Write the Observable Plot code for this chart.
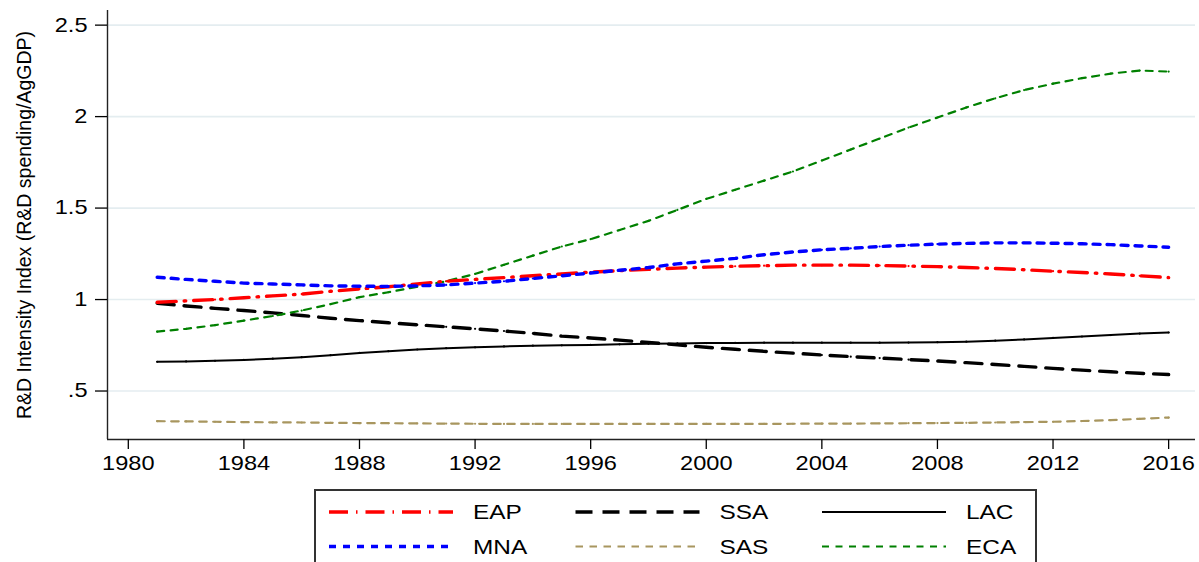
<!DOCTYPE html>
<html>
<head>
<meta charset="utf-8">
<script src="https://cdn.jsdelivr.net/npm/d3@7"></script>
<script src="https://cdn.jsdelivr.net/npm/@observablehq/plot@0.6"></script>
<style>
  body { margin: 0; background: #fff; font-family: "Liberation Sans", Arial, sans-serif; }
  #chart svg, #legend svg { display: block; }
</style>
</head>
<body>
<div id="chart"></div>
<div id="legend"></div>
<script>
// Agricultural R&D intensity by region, 1981-2016
const years = [1981, 1982, 1983, 1984, 1985, 1986, 1987, 1988, 1989, 1990, 1991, 1992,
               1993, 1994, 1995, 1996, 1997, 1998, 1999, 2000, 2001, 2002, 2003, 2004,
               2005, 2006, 2007, 2008, 2009, 2010, 2011, 2012, 2013, 2014, 2015, 2016];

const eap = [0.985, 0.993, 1.000, 1.010, 1.020, 1.030, 1.045, 1.058, 1.070, 1.085, 1.100, 1.110,
             1.120, 1.130, 1.140, 1.150, 1.158, 1.165, 1.172, 1.177, 1.182, 1.185, 1.188, 1.188,
             1.188, 1.186, 1.183, 1.180, 1.175, 1.170, 1.163, 1.155, 1.148, 1.140, 1.130, 1.120];

const ssa = [0.980, 0.965, 0.952, 0.940, 0.927, 0.913, 0.898, 0.885, 0.873, 0.862, 0.851, 0.840,
             0.828, 0.815, 0.800, 0.790, 0.778, 0.766, 0.752, 0.739, 0.728, 0.717, 0.707, 0.697,
             0.688, 0.680, 0.672, 0.664, 0.655, 0.645, 0.635, 0.624, 0.614, 0.605, 0.597, 0.590];

const lac = [0.660, 0.662, 0.665, 0.670, 0.677, 0.685, 0.696, 0.708, 0.718, 0.727, 0.734, 0.739,
             0.744, 0.748, 0.750, 0.752, 0.755, 0.758, 0.760, 0.762, 0.763, 0.764, 0.764, 0.764,
             0.764, 0.764, 0.765, 0.767, 0.770, 0.775, 0.782, 0.790, 0.798, 0.806, 0.814, 0.820];

const mna = [1.122, 1.110, 1.100, 1.090, 1.085, 1.080, 1.075, 1.073, 1.072, 1.075, 1.080, 1.090,
             1.100, 1.115, 1.130, 1.145, 1.160, 1.175, 1.195, 1.210, 1.225, 1.245, 1.260, 1.272,
             1.280, 1.290, 1.297, 1.303, 1.307, 1.310, 1.310, 1.308, 1.305, 1.300, 1.293, 1.286];

const sas = [0.335, 0.334, 0.332, 0.330, 0.329, 0.328, 0.326, 0.325, 0.324, 0.323, 0.322, 0.321,
             0.320, 0.320, 0.320, 0.320, 0.320, 0.320, 0.320, 0.320, 0.320, 0.320, 0.321, 0.322,
             0.322, 0.323, 0.324, 0.325, 0.326, 0.328, 0.330, 0.332, 0.336, 0.341, 0.348, 0.355];

const eca = [0.825, 0.840, 0.860, 0.885, 0.910, 0.940, 0.975, 1.013, 1.040, 1.070, 1.100, 1.140,
             1.190, 1.240, 1.290, 1.330, 1.380, 1.430, 1.490, 1.550, 1.600, 1.650, 1.700, 1.760,
             1.820, 1.880, 1.940, 1.995, 2.050, 2.100, 2.145, 2.180, 2.210, 2.235, 2.252, 2.246];

const regions = ["EAP", "SSA", "LAC", "MNA", "SAS", "ECA"];
const xTicks = [1980, 1984, 1988, 1992, 1996, 2000, 2004, 2008, 2012, 2016];
const yTicks = [0.5, 1, 1.5, 2, 2.5];
const yTickLabels = [".5", "1", "1.5", "2", "2.5"];
const yTitle = "R&D Intensity Index (R&D spending/AgGDP)";

// line styling per region
const styles = {
  EAP: {values: eap, stroke: "#ff0000", width: 3.4, dash: "19,8,1.5,8"},
  SSA: {values: ssa, stroke: "#000000", width: 3.4, dash: "17,10"},
  LAC: {values: lac, stroke: "#000000", width: 2,   dash: null},
  MNA: {values: mna, stroke: "#0000ff", width: 3.4, dash: "7,7"},
  SAS: {values: sas, stroke: "#a8965f", width: 2.2, dash: "7.5,6.5"},
  ECA: {values: eca, stroke: "#008000", width: 2.2, dash: "7,6.5"}
};

const rows = regions.map(r => years.map((y, i) => ({region: r, year: y, value: styles[r].values[i]})));

const xDomain = [1979.28, 2016.93];
const yDomain = [0.235, 2.58];

const drawOrder = ["SAS", "LAC", "SSA", "ECA", "EAP", "MNA"];
const lineMarks = drawOrder.flatMap(r => {
  const s = styles[r];
  const data = rows[regions.indexOf(r)];
  return [
    Plot.line(data, {x: "year", y: "value", stroke: s.stroke, strokeWidth: s.width,
                     strokeDasharray: s.dash ?? undefined, curve: "linear"}),
    Plot.dot(data, {x: "year", y: "value", r: 1.1, fill: s.stroke, stroke: "none"})
  ];
});

const chart = Plot.plot({
  width: 1199,
  height: 480,
  marginLeft: 107,
  marginRight: 4,
  marginTop: 10,
  marginBottom: 41,
  style: {fontFamily: "'Liberation Sans', Arial, sans-serif", fontSize: "20px", color: "#000", background: "#fff"},
  x: {domain: xDomain},
  y: {domain: yDomain},
  marks: [
    Plot.gridY(yTicks, {stroke: "#e4edf0", strokeOpacity: 1, strokeWidth: 1.6}),
    ...lineMarks,
    Plot.ruleX([xDomain[0]], {stroke: "#222", strokeWidth: 1.4}),
    Plot.ruleY([yDomain[0]], {stroke: "#222", strokeWidth: 1.4}),
    Plot.axisY(yTicks, {tickSize: 12, tickPadding: 8, strokeWidth: 1.3,
                        tickFormat: d => yTickLabels[yTicks.indexOf(d)], label: null}),
    Plot.axisX(xTicks, {tickSize: 10, tickPadding: 6, strokeWidth: 1.3,
                        tickFormat: d => String(d), label: null}),
    Plot.text([yTitle], {frameAnchor: "left", dx: -83, rotate: -90, fontSize: 19.5,
                         textAnchor: "middle", lineAnchor: "middle", fill: "#000"})
  ]
});
document.getElementById("chart").appendChild(chart);

// widen tick label glyphs horizontally, keeping each label's anchor in place
const widen = 1.18;
function widenLabels(selector, anchorOf) {
  chart.querySelectorAll(selector).forEach(text => {
    const parent = text.parentNode;
    const box = text.getBoundingClientRect();
    const pt = chart.createSVGPoint();
    [pt.x, pt.y] = anchorOf(box);
    const local = pt.matrixTransform(parent.getScreenCTM().inverse());
    const g = document.createElementNS("http://www.w3.org/2000/svg", "g");
    g.setAttribute("transform",
      `translate(${local.x},${local.y}) scale(${widen},1) translate(${-local.x},${-local.y})`);
    parent.insertBefore(g, text);
    g.appendChild(text);
  });
}
widenLabels('g[aria-label="x-axis tick label"] text', b => [b.left + b.width / 2, b.top]);
widenLabels('g[aria-label="y-axis tick label"] text', b => [b.right, b.top + b.height / 2]);

// legend: two rows of three entries inside a framed box
const legend = d3.create("svg").attr("width", 1199).attr("height", 82)
  .style("font-family", "'Liberation Sans', Arial, sans-serif");
legend.append("rect").attr("x", 315).attr("y", 10).attr("width", 721).attr("height", 100)
  .attr("fill", "#fff").attr("stroke", "#333").attr("stroke-width", 2);
regions.forEach((r, i) => {
  const s = styles[r];
  const col = i % 3, row = Math.floor(i / 3);
  const x0 = 329 + col * 246.5;
  const y0 = 32 + row * 34.5;
  const ln = legend.append("line").attr("x1", x0).attr("x2", x0 + 124)
    .attr("y1", y0).attr("y2", y0)
    .attr("stroke", s.stroke).attr("stroke-width", s.width);
  if (s.dash) ln.attr("stroke-dasharray", s.dash);
  const tx = x0 + 144;
  legend.append("g")
    .attr("transform", `translate(${tx},${y0}) scale(1.22,1)`)
    .append("text").attr("dy", "0.36em")
    .attr("font-size", 20).attr("fill", "#000").text(r);
});
document.getElementById("legend").appendChild(legend.node());
</script>
</body>
</html>
